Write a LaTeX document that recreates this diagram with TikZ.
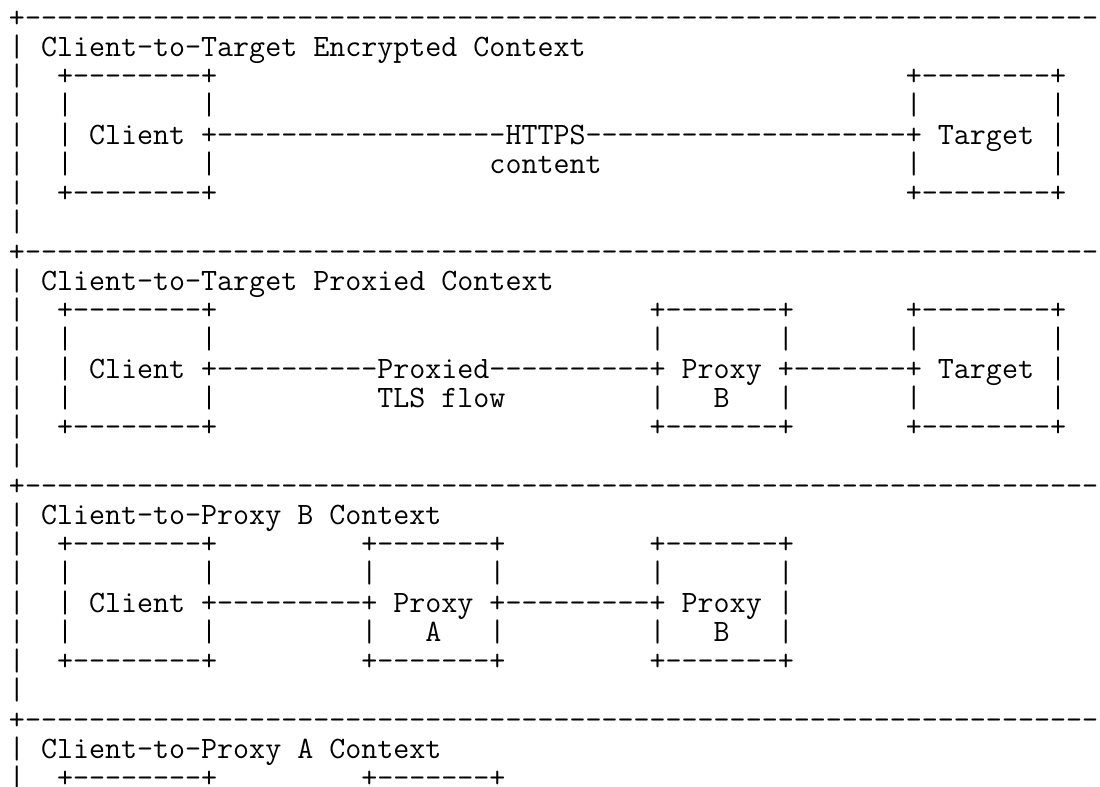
\documentclass[tikz,border=0pt]{standalone}
\usepackage{tikz}

\newcommand\asciifont{\ttfamily\fontsize{15.55pt}{14.625pt}\selectfont}
\newcommand\pad[1]{\kern#1\fontcharwd\font`\x\relax}
\newcommand\dashes[1]{\foreach\k in {1,...,#1}{-}}

\begin{document}
\begin{tikzpicture}[x=8pt,y=-14.625pt,
  asciirow/.style={anchor=base west,inner sep=0pt,outer sep=0pt,font=\asciifont}]
\useasboundingbox (0pt,0pt) rectangle (550pt,-393.5pt);
\clip (0pt,0pt) rectangle (550pt,-393.5pt);
\begin{scope}[yshift=-13.5pt]
% encrypted context
\node[asciirow] (l0) at (0.5625,0) {+\dashes{67}};
\node[asciirow] (l1) at (0.5625,1) {|\pad{1}Client-to-Target Encrypted Context};
\node[asciirow] (l2) at (0.5625,2) {|\pad{2}+\dashes{8}+\pad{43}+\dashes{8}+};
\node[asciirow] (l3) at (0.5625,3) {|\pad{2}|\pad{8}|\pad{43}|\pad{8}|};
\node[asciirow] (l4) at (0.5625,4) {|\pad{2}|\pad{1}Client\pad{1}+\dashes{18}HTTPS\dashes{20}+\pad{1}Target\pad{1}|};
\node[asciirow] (l5) at (0.5625,5) {|\pad{2}|\pad{8}|\pad{17}content\pad{19}|\pad{8}|};
\node[asciirow] (l6) at (0.5625,6) {|\pad{2}+\dashes{8}+\pad{43}+\dashes{8}+};
\node[asciirow] (l7) at (0.5625,7) {|};
% proxied context
\node[asciirow] (l8) at (0.5625,8) {+\dashes{67}};
\node[asciirow] (l9) at (0.5625,9) {|\pad{1}Client-to-Target Proxied Context};
\node[asciirow] (l10) at (0.5625,10) {|\pad{2}+\dashes{8}+\pad{27}+\dashes{7}+\pad{7}+\dashes{8}+};
\node[asciirow] (l11) at (0.5625,11) {|\pad{2}|\pad{8}|\pad{27}|\pad{7}|\pad{7}|\pad{8}|};
\node[asciirow] (l12) at (0.5625,12) {|\pad{2}|\pad{1}Client\pad{1}+\dashes{10}Proxied\dashes{10}+\pad{1}Proxy\pad{1}+\dashes{7}+\pad{1}Target\pad{1}|};
\node[asciirow] (l13) at (0.5625,13) {|\pad{2}|\pad{8}|\pad{10}TLS flow\pad{9}|\pad{3}B\pad{3}|\pad{7}|\pad{8}|};
\node[asciirow] (l14) at (0.5625,14) {|\pad{2}+\dashes{8}+\pad{27}+\dashes{7}+\pad{7}+\dashes{8}+};
\node[asciirow] (l15) at (0.5625,15) {|};
% proxy B context
\node[asciirow] (l16) at (0.5625,16) {+\dashes{67}};
\node[asciirow] (l17) at (0.5625,17) {|\pad{1}Client-to-Proxy B Context};
\node[asciirow] (l18) at (0.5625,18) {|\pad{2}+\dashes{8}+\pad{9}+\dashes{7}+\pad{9}+\dashes{7}+};
\node[asciirow] (l19) at (0.5625,19) {|\pad{2}|\pad{8}|\pad{9}|\pad{7}|\pad{9}|\pad{7}|};
\node[asciirow] (l20) at (0.5625,20) {|\pad{2}|\pad{1}Client\pad{1}+\dashes{9}+\pad{1}Proxy\pad{1}+\dashes{9}+\pad{1}Proxy\pad{1}|};
\node[asciirow] (l21) at (0.5625,21) {|\pad{2}|\pad{8}|\pad{9}|\pad{3}A\pad{3}|\pad{9}|\pad{3}B\pad{3}|};
\node[asciirow] (l22) at (0.5625,22) {|\pad{2}+\dashes{8}+\pad{9}+\dashes{7}+\pad{9}+\dashes{7}+};
\node[asciirow] (l23) at (0.5625,23) {|};
% proxy A context
\node[asciirow] (l24) at (0.5625,24) {+\dashes{67}};
\node[asciirow] (l25) at (0.5625,25) {|\pad{1}Client-to-Proxy A Context};
\node[asciirow] (l26) at (0.5625,26) {|\pad{2}+\dashes{8}+\pad{9}+\dashes{7}+};
\end{scope}
\end{tikzpicture}
\end{document}
